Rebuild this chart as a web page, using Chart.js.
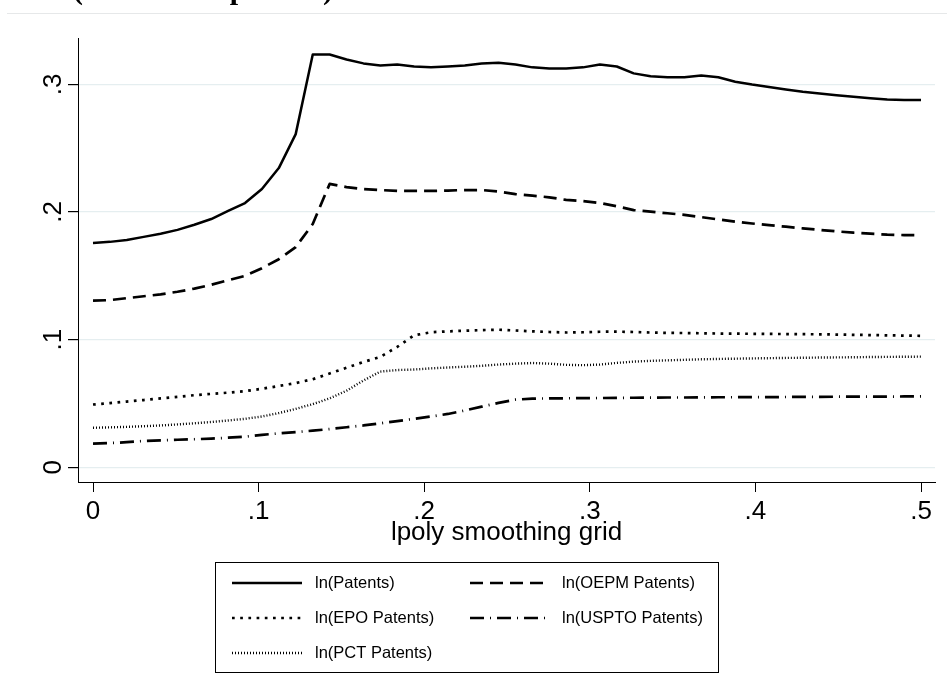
<!DOCTYPE html>
<html>
<head>
<meta charset="utf-8">
<script src="https://cdn.jsdelivr.net/npm/chart.js@4.4.1/dist/chart.umd.min.js"></script>
<style>
    html, body { margin: 0; padding: 0; background: #ffffff; }
    #wrap { width: 947px; height: 697px; }
</style>
</head>
<body>
<div id="wrap"><canvas id="lpoly_chart" width="947" height="697"></canvas></div>
<script>
// lpoly grid (50 points from 0 to .5)
var xGrid = [0, .0102, .0204, .0306, .0408, .0510, .0612, .0714, .0816, .0918,
    .1020, .1122, .1224, .1327, .1429, .1531, .1633, .1735, .1837, .1939,
    .2041, .2143, .2245, .2347, .2449, .2551, .2653, .2755, .2857, .2959,
    .3061, .3163, .3265, .3367, .3469, .3571, .3673, .3776, .3878, .3980,
    .4082, .4184, .4286, .4388, .4490, .4592, .4694, .4796, .4898, .5];

var lnPatents = [.1758, .1766, .1780, .1805, .1830, .1860, .1900, .1945, .2008, .2070,
    .2180, .2344, .2610, .3234, .3234, .3195, .3164, .3148, .3156, .3140,
    .3133, .3140, .3148, .3164, .3170, .3156, .3133, .3125, .3125, .3133,
    .3156, .3140, .3086, .3063, .3055, .3055, .3070, .3055, .3020, .2998,
    .2980, .2960, .2942, .2928, .2915, .2902, .2891, .2881, .2877, .2877];

var lnOEPM = [.1305, .1310, .1325, .1340, .1355, .1375, .1400, .1430, .1465, .1500,
    .1560, .1630, .1725, .1906, .2220, .2195, .2180, .2172, .2165, .2165,
    .2165, .2168, .2172, .2172, .2160, .2140, .2128, .2115, .2095, .2085,
    .2070, .2045, .2015, .2003, .1990, .1978, .1960, .1942, .1925, .1910,
    .1897, .1885, .1872, .1860, .1848, .1838, .1830, .1823, .1819, .1818];

var lnEPO = [.0492, .0503, .0515, .0527, .0540, .0552, .0565, .0575, .0585, .0597,
    .0615, .0637, .0660, .0690, .0735, .0780, .0825, .0865, .0943, .1034,
    .1058, .1065, .1070, .1075, .1078, .1072, .1065, .1060, .1056, .1058,
    .1062, .1063, .1060, .1056, .1053, .1052, .1050, .1048, .1047, .1046,
    .1045, .1044, .1043, .1042, .1040, .1038, .1036, .1034, .1032, .1030];

var lnUSPTO = [.0185, .0190, .0197, .0206, .0211, .0216, .0220, .0225, .0232, .0240,
    .0254, .0266, .0276, .0287, .0300, .0314, .0328, .0345, .0362, .0380,
    .0398, .0418, .0445, .0475, .0505, .0530, .0538, .0540, .0541, .0542,
    .0543, .0544, .0545, .0546, .0547, .0547, .0548, .0549, .0549, .0550,
    .0550, .0551, .0552, .0552, .0553, .0553, .0554, .0554, .0555, .0555];

var lnPCT = [.0310, .0313, .0317, .0322, .0328, .0336, .0345, .0355, .0367, .0380,
    .0398, .0425, .0458, .0495, .0540, .0600, .0680, .0750, .0762, .0766,
    .0775, .0782, .0788, .0795, .0805, .0812, .0817, .0812, .0803, .0800,
    .0805, .0818, .0828, .0834, .0838, .0842, .0846, .0849, .0851, .0853,
    .0855, .0857, .0858, .0860, .0861, .0862, .0864, .0865, .0866, .0867];

var seriesLabels = ['ln(Patents)', 'ln(OEPM Patents)', 'ln(EPO Patents)', 'ln(USPTO Patents)', 'ln(PCT Patents)'];
var xTicks = [0, .1, .2, .3, .4, .5];
var xTickLabels = ['0', '.1', '.2', '.3', '.4', '.5'];
var yTicks = [0, .1, .2, .3];
var yTickLabels = ['0', '.1', '.2', '.3'];
var xTitle = 'lpoly smoothing grid';
var topTitle = '(Number of patents)';

var sansFont = '"Liberation Sans", Arial, Helvetica, sans-serif';

function toPoints(ys) {
    return ys.map(function (y, i) { return {x: xGrid[i], y: y}; });
}

function lineSet(label, ys, dash, width) {
    return {
        label: label,
        data: toPoints(ys),
        borderColor: '#000000',
        backgroundColor: '#000000',
        borderWidth: width,
        borderDash: dash,
        borderCapStyle: 'butt',
        borderJoinStyle: 'round',
        pointRadius: 0,
        tension: 0,
        fill: false
    };
}

// legend box, cut off title and frame line (Stata style)
var stataExtras = {
    id: 'stataExtras',
    afterDraw: function (chart) {
        var ctx = chart.ctx;
        ctx.save();

        ctx.strokeStyle = '#e6e8e9';
        ctx.lineWidth = 1;
        ctx.beginPath();
        ctx.moveTo(7, 13.5);
        ctx.lineTo(947, 13.5);
        ctx.stroke();

        ctx.fillStyle = '#000000';
        ctx.font = 'bold 30px "Liberation Serif", "Times New Roman", serif';
        ctx.textBaseline = 'alphabetic';
        ctx.textAlign = 'left';
        ctx.fillText(topTitle, 73, -1.5);

        ctx.strokeStyle = '#000000';
        ctx.lineWidth = 1;
        ctx.strokeRect(215.5, 562.5, 503, 110);

        var cols = [[232, 302, 315], [470, 548, 562]];
        var rows = [583, 618, 653];
        ctx.font = '16.5px ' + sansFont;
        ctx.textBaseline = 'middle';
        chart.data.datasets.forEach(function (ds, i) {
            var c = cols[i % 2];
            var y = rows[Math.floor(i / 2)];
            ctx.beginPath();
            ctx.setLineDash(ds.borderDash);
            ctx.lineWidth = ds.borderWidth;
            ctx.lineCap = 'butt';
            ctx.moveTo(c[0], y);
            ctx.lineTo(c[1], y);
            ctx.stroke();
            ctx.setLineDash([]);
            ctx.fillText(ds.label, c[2], y);
        });
        ctx.restore();
    }
};

var ctx = document.getElementById('lpoly_chart').getContext('2d');

var myChart = new Chart(ctx, {
    type: 'line',
    data: {
        datasets: [
            lineSet(seriesLabels[0], lnPatents, [], 2.5),
            lineSet(seriesLabels[1], lnOEPM, [13, 7], 2.7),
            lineSet(seriesLabels[2], lnEPO, [2.7, 5.5], 2.7),
            lineSet(seriesLabels[3], lnUSPTO, [14, 6, 1, 6], 2.7),
            lineSet(seriesLabels[4], lnPCT, [1, 2], 2.4)
        ]
    },
    options: {
        responsive: false,
        animation: false,
        devicePixelRatio: 1,
        layout: {padding: {top: 38, right: 12, bottom: 149, left: 0}},
        plugins: {
            legend: {display: false},
            tooltip: {enabled: false}
        },
        scales: {
            x: {
                type: 'linear',
                min: -0.00906,
                max: 0.50845,
                afterBuildTicks: function (scale) {
                    scale.ticks = xTicks.map(function (v) { return {value: v}; });
                },
                afterFit: function (scale) { scale.height = 66; },
                ticks: {
                    color: '#000000',
                    font: {family: sansFont, size: 26},
                    padding: 4,
                    maxRotation: 0,
                    autoSkip: false,
                    callback: function (v, i) { return xTickLabels[i]; }
                },
                grid: {
                    drawOnChartArea: false,
                    tickColor: '#000000',
                    tickLength: 10,
                    lineWidth: 1
                },
                border: {display: true, color: '#000000', width: 1},
                title: {
                    display: true,
                    text: xTitle,
                    color: '#000000',
                    font: {family: sansFont, size: 26},
                    padding: {top: 0, bottom: 0}
                }
            },
            y: {
                type: 'linear',
                min: -0.0115,
                max: 0.3363,
                afterBuildTicks: function (scale) {
                    scale.ticks = yTicks.map(function (v) { return {value: v}; });
                },
                afterFit: function (scale) { scale.width = 78; },
                ticks: {
                    color: '#000000',
                    font: {family: sansFont, size: 26},
                    padding: 3,
                    minRotation: 90,
                    maxRotation: 90,
                    crossAlign: 'center',
                    autoSkip: false,
                    callback: function (v, i) { return yTickLabels[i]; }
                },
                grid: {
                    color: '#e5eef0',
                    lineWidth: 1.2,
                    tickColor: '#000000',
                    tickLength: 10
                },
                border: {display: true, color: '#000000', width: 1}
            }
        }
    },
    plugins: [stataExtras]
});
</script>
</body>
</html>
